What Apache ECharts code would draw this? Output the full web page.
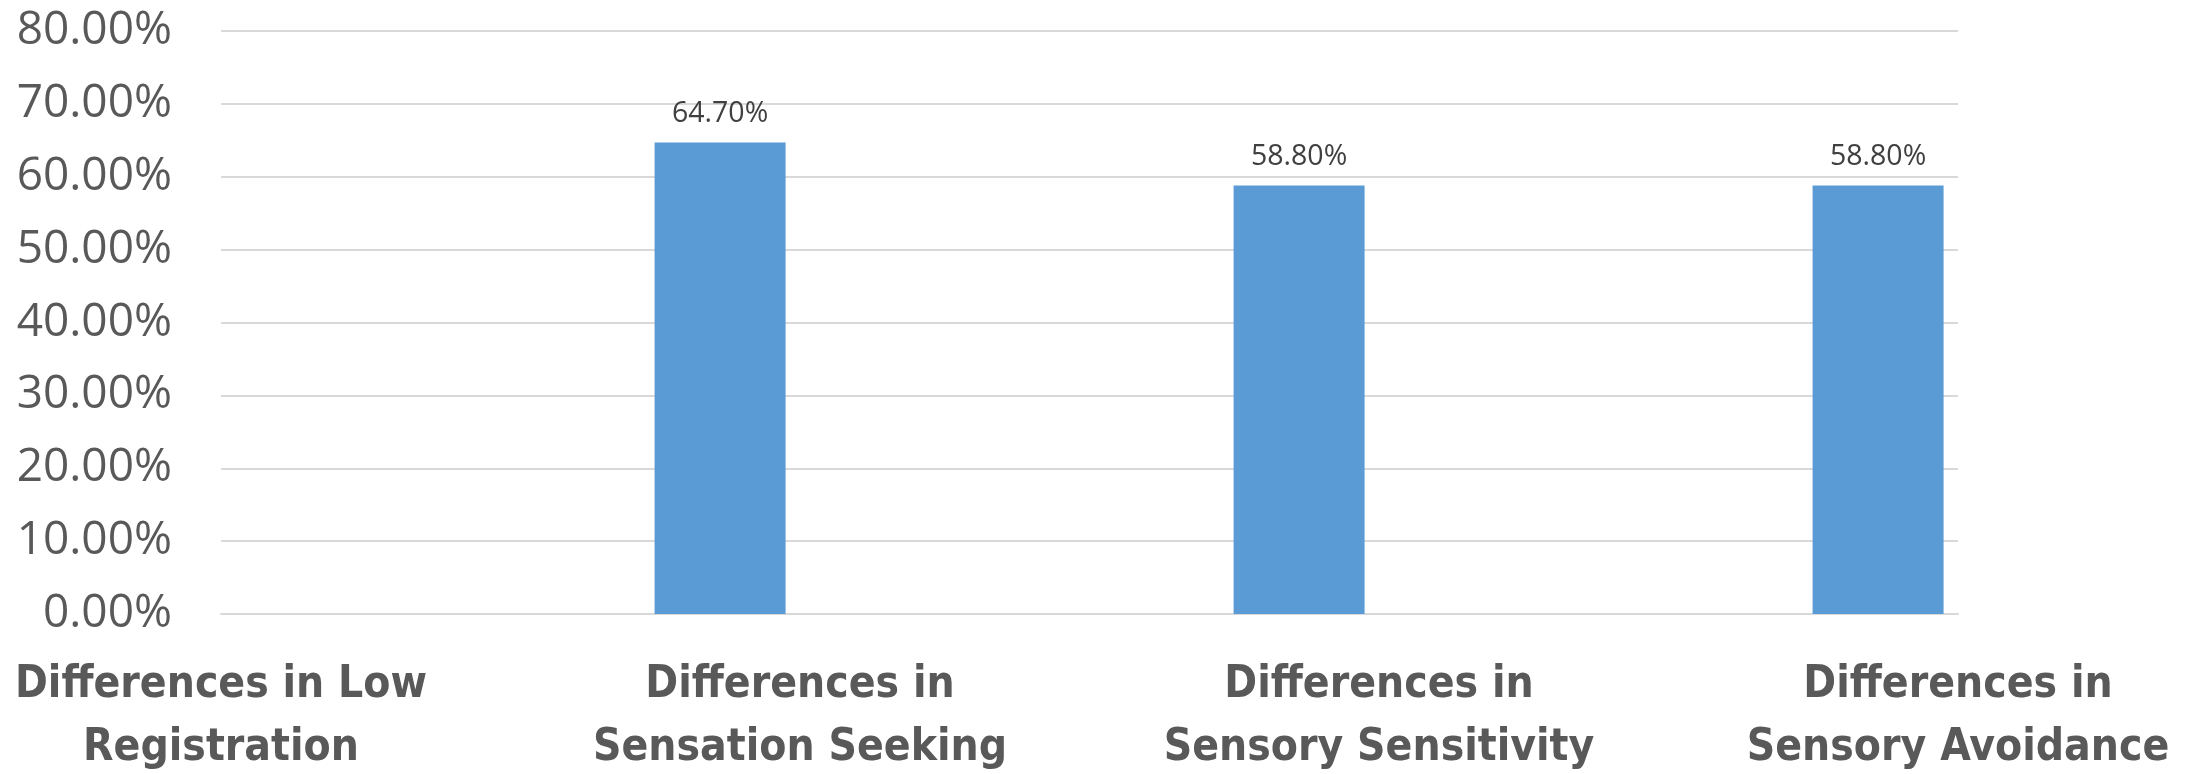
<!DOCTYPE html>
<html>
<head>
<meta charset="utf-8">
<script src="https://cdn.jsdelivr.net/npm/echarts@6/dist/echarts.min.js"></script>
<style>
  html, body { margin: 0; padding: 0; background: #fff; }
  #chart { width: 2198px; height: 774px; }
</style>
</head>
<body>
<div id="chart"></div>
<script>
// Category labels (wrapped as in the original)
const categories = [
  "Differences in Low\nRegistration",
  "Differences in\nSensation Seeking",
  "Differences in\nSensory Sensitivity",
  "Differences in\nSensory Avoidance",
];
// Percent values; the first category has no bar
const values = [null, 64.7, 58.8, 58.8];
// Second (empty) series only takes its slot in the cluster
const emptyValues = [null, null, null, null];

const chart = echarts.init(document.getElementById("chart"));

chart.setOption({
  animation: false,
  grid: {
    left: 221,
    right: 240,
    top: 31,
    bottom: 160,
    outerBoundsMode: "none",
  },
  xAxis: {
    type: "category",
    data: categories,
    boundaryGap: false,
    axisLine: { show: true, lineStyle: { color: "#d9d9d9", width: 2 } },
    axisTick: { show: false },
    splitLine: { show: false },
    axisLabel: {
      interval: 0,
      margin: 40,
      color: "#595959",
      fontFamily: "DejaVu Sans Condensed",
      fontWeight: "bold",
      fontSize: 44,
      lineHeight: 63,
      align: "center",
    },
  },
  yAxis: {
    type: "value",
    min: 0,
    max: 80,
    interval: 10,
    axisLine: { show: false },
    axisTick: { show: false },
    splitLine: { lineStyle: { color: "#d9d9d9", width: 2 } },
    axisLabel: {
      margin: 49,
      color: "#595959",
      fontFamily: "Open Sans",
      fontSize: 46,
      formatter: (v) => v.toFixed(2) + "%",
    },
  },
  series: [
    {
      name: "Share",
      type: "bar",
      data: values,
      barWidth: 131,
      barGap: "22%",
      itemStyle: { color: "#5b9bd5" },
      label: {
        show: true,
        position: "top",
        distance: 14,
        color: "#404040",
        fontFamily: "Open Sans",
        fontSize: 28.5,
        formatter: (p) => p.value.toFixed(2) + "%",
      },
    },
    {
      name: "",
      type: "bar",
      data: emptyValues,
      barWidth: 131,
      itemStyle: { color: "#ed7d31" },
    },
  ],
});
</script>
</body>
</html>
